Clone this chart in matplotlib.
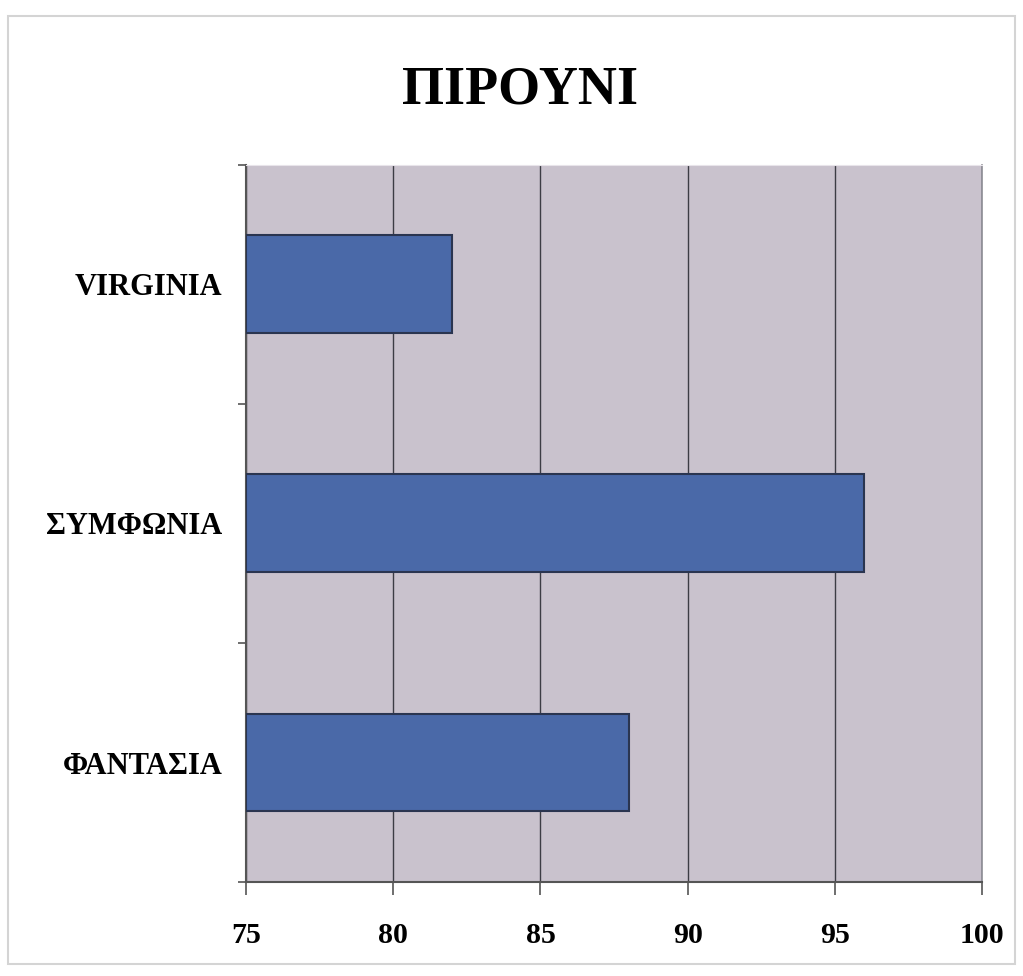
import matplotlib.pyplot as plt
from matplotlib.patches import Rectangle

plt.rcParams['font.family'] = ['Liberation Serif', 'DejaVu Serif']

title = 'ΠΙΡΟΥΝΙ'
varieties = ['ΦΑΝΤΑΣΙΑ', 'ΣΥΜΦΩΝΙΑ', 'VIRGINIA']
scores = [88, 96, 82]
x_ticks = [75, 80, 85, 90, 95, 100]

fig = plt.figure(figsize=(10.23, 9.76), dpi=100)
fig.patch.set_facecolor('white')

# light frame around the whole chart
fig.add_artist(Rectangle((0.008, 0.012), 0.984, 0.972, transform=fig.transFigure,
                         fill=False, edgecolor='#d4d4d4', linewidth=1.5))

ax = fig.add_axes([0.2405, 0.0963, 0.7195, 0.7347])
ax.set_facecolor('#c9c2cd')

pos = range(len(varieties))
ax.barh(pos, [s - x_ticks[0] for s in scores], left=x_ticks[0], height=0.41,
        color='#4a69a8', edgecolor='#2a3550', linewidth=1.5, zorder=3)

ax.set_xlim(x_ticks[0], x_ticks[-1])
ax.set_ylim(-0.5, len(varieties) - 0.5)
ax.set_xticks(x_ticks)
ax.set_xticklabels([str(t) for t in x_ticks], fontsize=21.5, fontweight='bold')
ax.set_yticks(list(pos))
ax.set_yticklabels(varieties, fontsize=22, fontweight='bold')
ax.set_yticks([-0.5, 0.5, 1.5, 2.5], minor=True)

ax.xaxis.grid(True, color='#3c3c44', linewidth=1.0, zorder=1)
ax.set_axisbelow(True)

ax.tick_params(axis='x', length=9, width=1.2, color='#555555', pad=20)
ax.tick_params(axis='y', which='major', length=0, pad=17)
ax.tick_params(axis='y', which='minor', length=6, width=1.2, color='#555555')

for side in ['left', 'bottom']:
    ax.spines[side].set_color('#555555')
    ax.spines[side].set_linewidth(1.5)
ax.spines['top'].set_color('#e8e4ea')
ax.spines['right'].set_color('#8c8c94')
ax.spines['right'].set_linewidth(1.2)

fig.text(0.508, 0.907, title, ha='center', va='center', fontsize=39, fontweight='bold')

fig.savefig('out.png', dpi=100)
